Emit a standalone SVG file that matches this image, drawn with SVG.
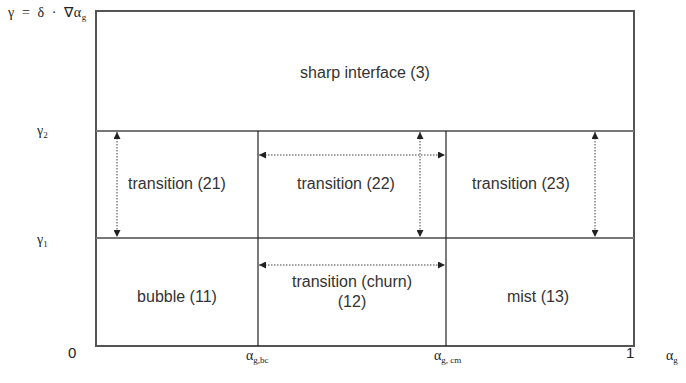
<svg xmlns="http://www.w3.org/2000/svg" width="686" height="383" viewBox="0 0 686 383">
  <defs>
    <marker id="ah" viewBox="0 0 10 10" refX="10" refY="5" markerWidth="7" markerHeight="7" orient="auto-start-reverse" markerUnits="userSpaceOnUse">
      <path d="M0,0 L10,5 L0,10 z" fill="#222"/>
    </marker>
    <style>
      .lbl { font-family: "Liberation Sans", Arial, sans-serif; font-size: 16px; fill: #333; text-anchor: middle; }
      .ax { font-family: "Liberation Serif", "Times New Roman", serif; font-size: 14px; fill: #222; }
      .axs { font-family: "Liberation Sans", Arial, sans-serif; font-size: 15px; fill: #222; }
      .sub { font-size: 9px; }
      .dim { stroke: #444; stroke-width: 1; stroke-dasharray: 1.5 1.5; fill: none; marker-start: url(#ah); marker-end: url(#ah); }
      .hline { stroke: #777; stroke-width: 2; }
      .vline { stroke: #222; stroke-width: 1.2; }
    </style>
  </defs>

  <!-- frame and dividers -->
  <g id="frame">
    <rect x="96" y="11" width="538" height="335" fill="#fff" stroke="#555" stroke-width="2"/>
    <line class="hline" x1="96" y1="131" x2="634" y2="131"/>
    <line class="hline" x1="96" y1="238" x2="634" y2="238"/>
    <line class="vline" x1="258" y1="131" x2="258" y2="346"/>
    <line class="vline" x1="446" y1="131" x2="446" y2="346"/>
  </g>

  <!-- region labels -->
  <g id="region3"><text class="lbl" x="365" y="78">sharp interface (3)</text></g>
  <g id="region21"><text class="lbl" x="177" y="189">transition (21)</text></g>
  <g id="region22"><text class="lbl" x="346" y="189">transition (22)</text></g>
  <g id="region23"><text class="lbl" x="521" y="189">transition (23)</text></g>
  <g id="region11"><text class="lbl" x="177" y="302">bubble (11)</text></g>
  <g id="region12">
    <text class="lbl" x="352" y="287">transition (churn)</text>
    <text class="lbl" x="352" y="307">(12)</text>
  </g>
  <g id="region13"><text class="lbl" x="538" y="302">mist (13)</text></g>

  <!-- dimension arrows -->
  <g id="connectors">
    <line class="dim" x1="117" y1="132" x2="117" y2="237"/>
    <line class="dim" x1="420" y1="132" x2="420" y2="237"/>
    <line class="dim" x1="595" y1="132" x2="595" y2="237"/>
    <line class="dim" x1="259" y1="155" x2="445" y2="155"/>
    <line class="dim" x1="259" y1="265" x2="445" y2="265"/>
  </g>

  <!-- axis labels -->
  <g id="axes">
    <text class="ax" x="8" y="17" word-spacing="3" letter-spacing="0.6">γ = δ · ∇α<tspan class="sub" dy="3">g</tspan></text>
    <text class="ax" x="37" y="135">γ<tspan class="sub" dy="3">2</tspan></text>
    <text class="ax" x="37" y="244">γ<tspan class="sub" dy="3">1</tspan></text>
    <text class="axs" x="68" y="358">0</text>
    <text class="ax" x="246" y="360">α<tspan class="sub" dy="3">g,bc</tspan></text>
    <text class="ax" x="434" y="360">α<tspan class="sub" dy="3">g, cm</tspan></text>
    <text class="axs" x="626" y="358">1</text>
    <text class="ax" x="666" y="360">α<tspan class="sub" dy="3">g</tspan></text>
  </g>
</svg>
